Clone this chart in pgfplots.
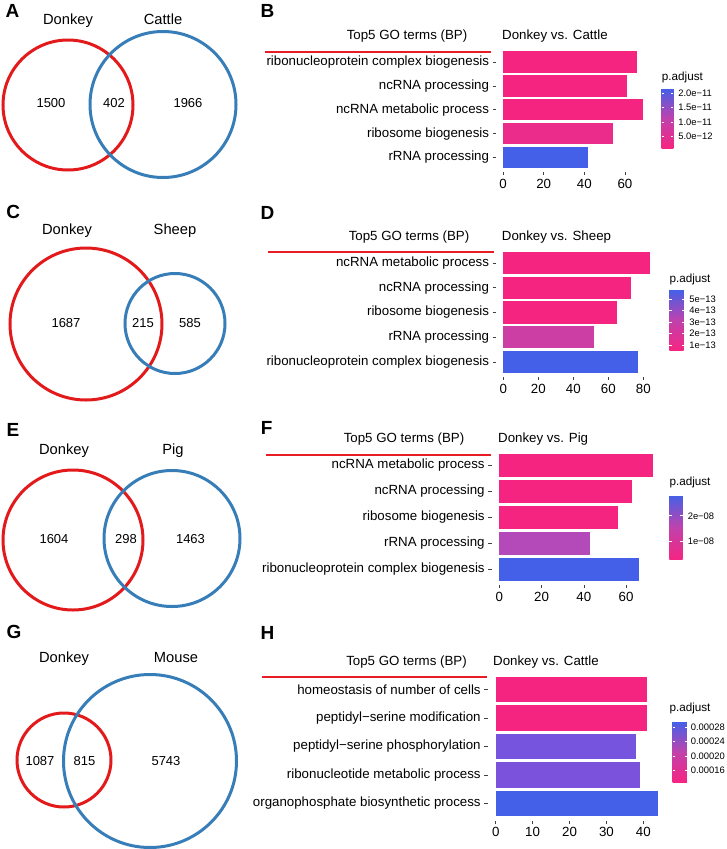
\documentclass[border=0pt]{standalone}
\usepackage{pgfplots}
\pgfplotsset{compat=1.18}
\usepackage{fontspec}
\setmainfont{Liberation Sans}

\definecolor{vred}{RGB}{227,26,28}
\definecolor{vblue}{RGB}{55,126,184}
\definecolor{lred}{RGB}{232,28,36}
\definecolor{pk}{RGB}{246,36,129}
\definecolor{bl}{RGB}{68,96,232}
\definecolor{cB}{RGB}{236,44,138}
\definecolor{cD}{RGB}{204,62,163}
\definecolor{cF}{RGB}{180,74,186}
\definecolor{cHa}{RGB}{118,84,222}
\definecolor{cHb}{RGB}{122,82,220}

\newcommand\fA{\fontsize{13.3}{15}\selectfont}
\newcommand\fV{\fontsize{14.7}{16}\selectfont}
\newcommand\fN{\fontsize{13}{15}\selectfont}
\newcommand\fL{\fontsize{19}{21}\selectfont\bfseries}
\newcommand\fC{\fontsize{9.4}{10}\selectfont}
\newcommand\fT{\fontsize{11.7}{13}\selectfont}

\pgfplotsset{
  gobar/.style={
    scale only axis, anchor=south west,
    y dir=reverse, ymin=-0.6, ymax=4.6,
    ytick={0,1,2,3,4},
    bar width=0.9,
    axis line style={draw=none},
    tick align=outside, major tick length=3.4pt,
    tick style={draw=black!75, line width=0.5pt},
    xtick pos=bottom, ytick pos=left,
    ticklabel style={font=\fA},
    /pgf/number format/assume math mode=true,
    colormap={pa}{rgb255=(246,36,129) rgb255=(192,66,172) rgb255=(68,96,232)},
    colorbar,
    colorbar style={
      at={(parent axis.north east)}, anchor=north west,
      scale only axis,
      axis line style={draw=none},
      scaled y ticks=false,
      tick align=inside, major tick length=2.5pt,
      ytick style={draw=white, line width=0.6pt},
      ytick pos=both, yticklabel pos=right,
      yticklabel style={font=\fC, xshift=1.5pt},
    },
  },
}

\begin{document}
\begin{tikzpicture}
\useasboundingbox (0,0) rectangle (726pt,849pt);

% overlay in pixel units: Venn diagrams, panel letters, headers
\begin{axis}[at={(0pt,0pt)}, anchor=south west, scale only axis,
  width=726pt, height=849pt, xmin=0, xmax=726, ymin=0, ymax=849,
  y dir=reverse, hide axis, clip=false]
% A
\draw[vred, line width=3pt] (axis cs:68,105) circle[radius=65pt];
\draw[vblue, line width=3pt] (axis cs:163,104.5) circle[radius=73pt];
\node[font=\fV, anchor=mid] at (axis cs:68,22) {Donkey};
\node[font=\fV, anchor=mid] at (axis cs:163,22) {Cattle};
\node[font=\fN, anchor=mid] at (axis cs:51,105) {1500};
\node[font=\fN, anchor=mid] at (axis cs:114,105) {402};
\node[font=\fN, anchor=mid] at (axis cs:188,105) {1966};
% C
\draw[vred, line width=3pt] (axis cs:86,324) circle[radius=76pt];
\draw[vblue, line width=3pt] (axis cs:175,323.5) circle[radius=50pt];
\node[font=\fV, anchor=mid] at (axis cs:67,232) {Donkey};
\node[font=\fV, anchor=mid] at (axis cs:175,232) {Sheep};
\node[font=\fN, anchor=mid] at (axis cs:66,325) {1687};
\node[font=\fN, anchor=mid] at (axis cs:143,325) {215};
\node[font=\fN, anchor=mid] at (axis cs:190,325) {585};
% E
\draw[vred, line width=3pt] (axis cs:73,540) circle[radius=70pt];
\draw[vblue, line width=3pt] (axis cs:172,538.5) circle[radius=68pt];
\node[font=\fV, anchor=mid] at (axis cs:64,452) {Donkey};
\node[font=\fV, anchor=mid] at (axis cs:173,452) {Pig};
\node[font=\fN, anchor=mid] at (axis cs:54,541) {1604};
\node[font=\fN, anchor=mid] at (axis cs:126,541) {298};
\node[font=\fN, anchor=mid] at (axis cs:190.5,541) {1463};
% G
\draw[vred, line width=3pt] (axis cs:64,760) circle[radius=47pt];
\draw[vblue, line width=3pt] (axis cs:150,761) circle[radius=86.5pt];
\node[font=\fV, anchor=mid] at (axis cs:64,660) {Donkey};
\node[font=\fV, anchor=mid] at (axis cs:176,660) {Mouse};
\node[font=\fN, anchor=mid] at (axis cs:40,763) {1087};
\node[font=\fN, anchor=mid] at (axis cs:84.5,763) {815};
\node[font=\fN, anchor=mid] at (axis cs:166,763) {5743};
% panel letters
\node[font=\fL] at (axis cs:12.5,11) {A};
\node[font=\fL] at (axis cs:267.5,11) {B};
\node[font=\fL] at (axis cs:13.3,212) {C};
\node[font=\fL] at (axis cs:267.5,212.5) {D};
\node[font=\fL] at (axis cs:13,430) {E};
\node[font=\fL] at (axis cs:266.7,428) {F};
\node[font=\fL] at (axis cs:14,632) {G};
\node[font=\fL] at (axis cs:267.5,632.5) {H};
% headers
\node[font=\fA, anchor=mid] at (axis cs:407,37) {Top5 GO terms (BP)};
\node[font=\fA, anchor=mid west, inner sep=0pt] at (axis cs:502,37) {Donkey vs. Cattle};
\draw[lred, line width=1.5pt] (axis cs:265,52) -- (axis cs:491,52);
\node[font=\fA, anchor=mid] at (axis cs:409,238) {Top5 GO terms (BP)};
\node[font=\fA, anchor=mid west, inner sep=0pt] at (axis cs:501.7,238) {Donkey vs. Sheep};
\draw[lred, line width=1.5pt] (axis cs:268,252) -- (axis cs:494,252);
\node[font=\fA, anchor=mid] at (axis cs:404,440) {Top5 GO terms (BP)};
\node[font=\fA, anchor=mid west, inner sep=0pt] at (axis cs:498,440) {Donkey vs. Pig};
\draw[lred, line width=1.5pt] (axis cs:266,455) -- (axis cs:491,455);
\node[font=\fA, anchor=mid] at (axis cs:406.5,663) {Top5 GO terms (BP)};
\node[font=\fA, anchor=mid west, inner sep=0pt] at (axis cs:493,663) {Donkey vs. Cattle};
\draw[lred, line width=1.5pt] (axis cs:262,677) -- (axis cs:487,677);
% colour bar titles
\node[font=\fT, anchor=mid west, inner sep=0pt] at (axis cs:661.7,78) {p.adjust};
\node[font=\fT, anchor=mid west, inner sep=0pt] at (axis cs:669.3,280) {p.adjust};
\node[font=\fT, anchor=mid west, inner sep=0pt] at (axis cs:669.3,483) {p.adjust};
\node[font=\fT, anchor=mid west, inner sep=0pt] at (axis cs:669.3,709) {p.adjust};
\end{axis}

% B
\begin{axis}[gobar, at={(496pt,677.2pt)}, width=154.3pt, height=124.1pt,
  xmin=-3.45, xmax=72.45, xtick={0,20,40,60},
  yticklabels={ribonucleoprotein complex biogenesis, ncRNA processing,
    ncRNA metabolic process, ribosome biogenesis, rRNA processing},
  point meta min=1.0e-12, point meta max=2.17e-11,
  colorbar style={xshift=2.9pt, yshift=-40.6pt, width=11.6pt, height=60pt,
    ytick={5e-12,1e-11,1.5e-11,2e-11},
    yticklabels={5.0e−12,1.0e−11,1.5e−11,2.0e−11}}]
\addplot[xbar, fill=pk, draw=none] coordinates {(66,0)};
\addplot[xbar, fill=pk, draw=none] coordinates {(61,1)};
\addplot[xbar, fill=pk, draw=none] coordinates {(69,2)};
\addplot[xbar, fill=cB, draw=none] coordinates {(54,3)};
\addplot[xbar, fill=bl, draw=none] coordinates {(42,4)};
\end{axis}

% D
\begin{axis}[gobar, at={(496pt,472.15pt)}, width=161.7pt, height=128.7pt,
  xmin=-4.2, xmax=88.2, xtick={0,20,40,60,80},
  yticklabels={ncRNA metabolic process, ncRNA processing, ribosome biogenesis,
    rRNA processing, ribonucleoprotein complex biogenesis},
  point meta min=0.5e-13, point meta max=5.82e-13,
  colorbar style={xshift=3.1pt, yshift=-41.85pt, width=15pt, height=60.7pt,
    ytick={1e-13,2e-13,3e-13,4e-13,5e-13},
    yticklabels={1e−13,2e−13,3e−13,4e−13,5e−13}}]
\addplot[xbar, fill=pk, draw=none] coordinates {(84,0)};
\addplot[xbar, fill=pk, draw=none] coordinates {(73,1)};
\addplot[xbar, fill=pk, draw=none] coordinates {(65,2)};
\addplot[xbar, fill=cD, draw=none] coordinates {(52,3)};
\addplot[xbar, fill=bl, draw=none] coordinates {(77,4)};
\end{axis}

% F
\begin{axis}[gobar, at={(491.6pt,263.9pt)}, width=169.6pt, height=135.2pt,
  xmin=-3.65, xmax=76.65, xtick={0,20,40,60},
  yticklabels={ncRNA metabolic process, ncRNA processing, ribosome biogenesis,
    rRNA processing, ribonucleoprotein complex biogenesis},
  point meta min=0.296e-8, point meta max=2.80e-8,
  colorbar style={xshift=-0.4pt, yshift=-45.1pt, width=13.4pt, height=65pt,
    ytick={1e-8,2e-8},
    yticklabels={1e−08,2e−08}}]
\addplot[xbar, fill=pk, draw=none] coordinates {(73,0)};
\addplot[xbar, fill=pk, draw=none] coordinates {(63,1)};
\addplot[xbar, fill=pk, draw=none] coordinates {(56,2)};
\addplot[xbar, fill=cF, draw=none] coordinates {(43,3)};
\addplot[xbar, fill=bl, draw=none] coordinates {(66,4)};
\end{axis}

% H
\begin{axis}[gobar, at={(487.6pt,28.4pt)}, width=178.6pt, height=148.2pt,
  xmin=-2.2, xmax=46.2, xtick={0,10,20,30,40},
  yticklabels={homeostasis of number of cells, peptidyl−serine modification,
    peptidyl−serine phosphorylation, ribonucleotide metabolic process,
    organophosphate biosynthetic process},
  point meta min=0.000128, point meta max=0.000295,
  colorbar style={xshift=-2pt, yshift=-49.3pt, width=14.6pt, height=60.6pt,
    ytick={0.00016,0.0002,0.00024,0.00028},
    yticklabels={0.00016,0.00020,0.00024,0.00028},
    yticklabel style={xshift=-1.5pt}}]
\addplot[xbar, fill=pk, draw=none] coordinates {(41,0)};
\addplot[xbar, fill=pk, draw=none] coordinates {(41,1)};
\addplot[xbar, fill=cHa, draw=none] coordinates {(38,2)};
\addplot[xbar, fill=cHb, draw=none] coordinates {(39,3)};
\addplot[xbar, fill=bl, draw=none] coordinates {(44,4)};
\end{axis}
\end{tikzpicture}
\end{document}
